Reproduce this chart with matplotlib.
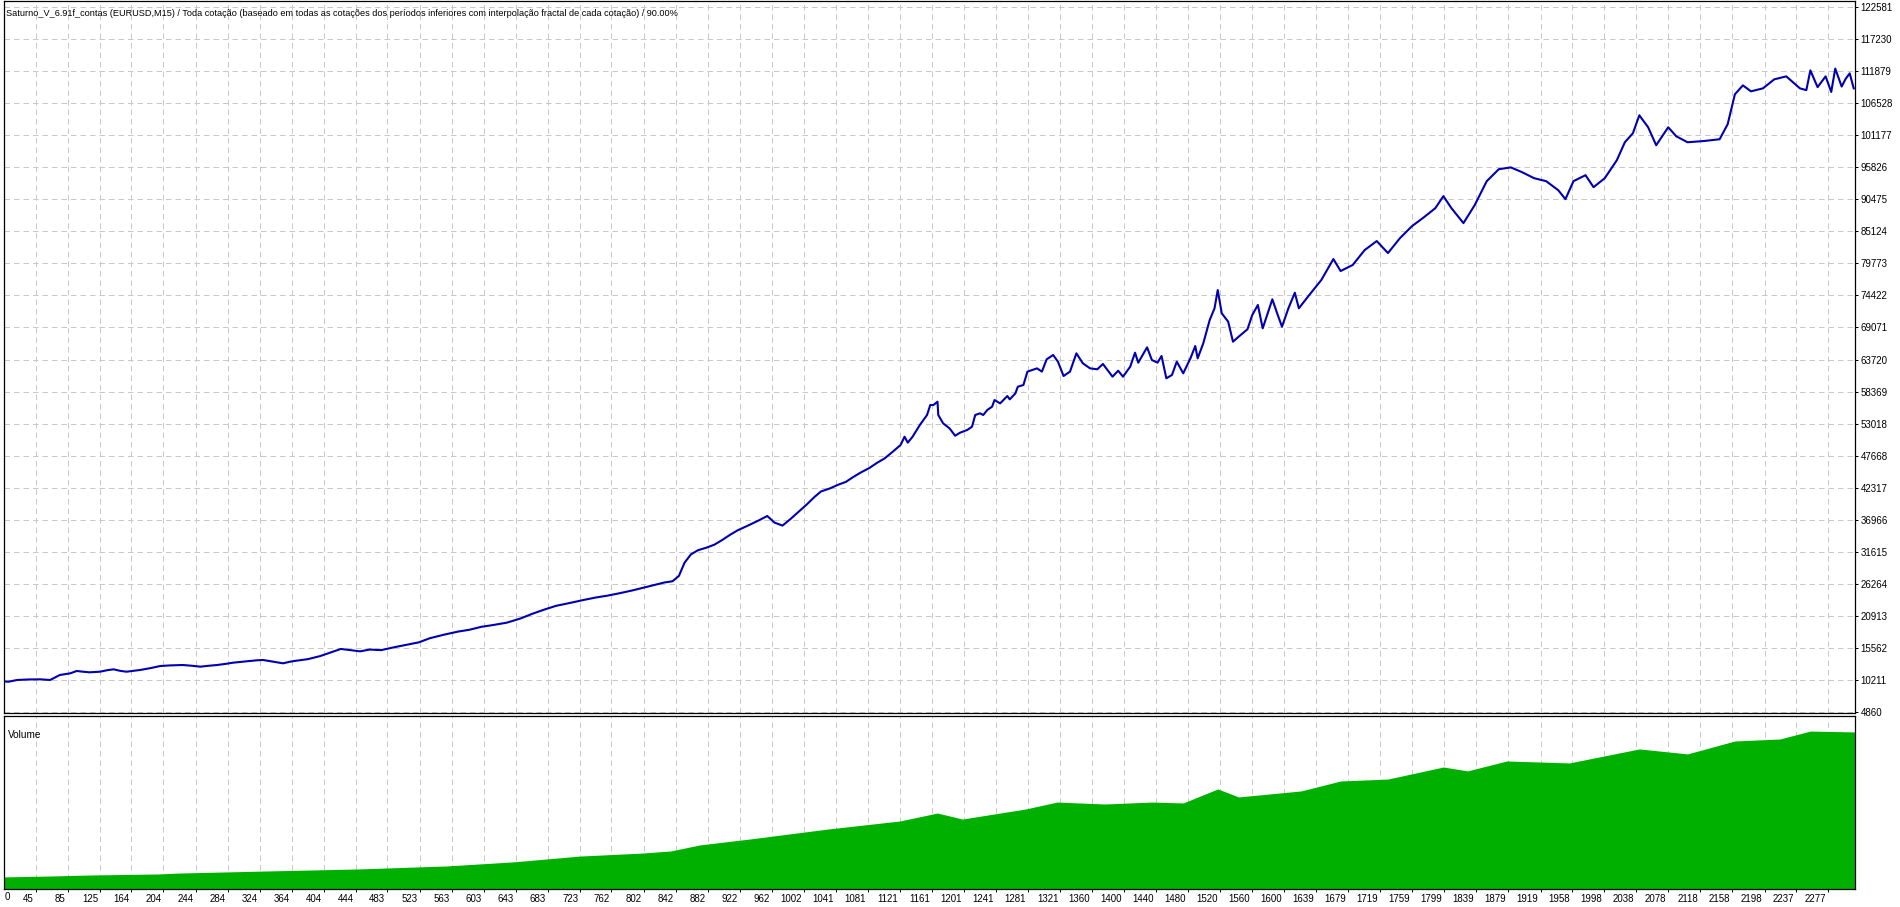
import matplotlib.pyplot as plt
from matplotlib.transforms import ScaledTranslation

plt.rcParams['font.family'] = ['Liberation Sans', 'DejaVu Sans']

title = ("Saturno_V_6.91f_contas (EURUSD,M15) / Toda cotação (baseado em todas as cotações "
         "dos períodos inferiores com interpolação fractal de cada cotação) / 90.00%")

# rótulos do eixo x (número da barra)
x_ticks = [0, 45, 85, 125, 164, 204, 244, 284, 324, 364, 404, 444, 483, 523, 563, 603,
           643, 683, 723, 762, 802, 842, 882, 922, 962, 1002, 1041, 1081, 1121, 1161,
           1201, 1241, 1281, 1321, 1360, 1400, 1440, 1480, 1520, 1560, 1600, 1639, 1679,
           1719, 1759, 1799, 1839, 1879, 1919, 1958, 1998, 2038, 2078, 2118, 2158, 2198,
           2237, 2277]
y_ticks = [4860, 10211, 15562, 20913, 26264, 31615, 36966, 42317, 47668, 53018, 58369,
           63720, 69071, 74422, 79773, 85124, 90475, 95826, 101177, 106528, 111879,
           117230, 122581]

# saldo
bal_x = [0, 11, 22, 35, 50, 63, 70, 75, 82, 88, 96, 104, 112, 125, 134, 142, 150, 158,
         175, 188, 200, 212, 228, 239, 250, 261, 271, 281, 291, 301, 311, 320, 328, 340,
         353, 361, 367, 384, 399, 414, 425, 437, 449, 461, 475, 492, 507, 522, 536, 554,
         571, 585, 600, 615, 632, 649, 664, 679, 693, 711, 728, 743, 757, 772, 789, 801,
         816, 828, 838, 846, 853, 861, 870, 880, 890, 900, 909, 919, 932, 946, 956, 965,
         975, 985, 995, 1005, 1015, 1023, 1034, 1044, 1054, 1063, 1073, 1083, 1093, 1102,
         1112, 1122, 1127, 1131, 1137, 1146, 1155, 1159, 1163, 1168, 1169, 1175, 1183,
         1190, 1196, 1205, 1211, 1215, 1221, 1225, 1230, 1236, 1239, 1246, 1255, 1258,
         1265, 1268, 1275, 1280, 1286, 1292, 1298, 1304, 1312, 1318, 1325, 1333, 1341,
         1349, 1358, 1367, 1374, 1386, 1393, 1399, 1408, 1414, 1418, 1429, 1435, 1442,
         1447, 1453, 1460, 1466, 1474, 1483, 1489, 1492, 1499, 1507, 1513, 1517, 1522,
         1530, 1536, 1543, 1554, 1560, 1567, 1573, 1585, 1591, 1597, 1605, 1613, 1618,
         1631, 1646, 1661, 1670, 1685, 1700, 1715, 1729, 1744, 1759, 1774, 1788, 1798,
         1808, 1823, 1837, 1852, 1867, 1882, 1896, 1911, 1926, 1941, 1950, 1960, 1975,
         1985, 1999, 2014, 2024, 2034, 2042, 2053, 2063, 2078, 2088, 2102, 2122, 2142,
         2152, 2161, 2171, 2181, 2196, 2210, 2225, 2242, 2250, 2255, 2264, 2274, 2281,
         2286, 2294, 2299, 2304, 2309]
bal_y = [10000, 9930, 10220, 10300, 10330, 10220, 10700, 11050, 11200, 11330, 11720,
         11600, 11500, 11600, 11850, 12000, 11750, 11600, 11890, 12200, 12550, 12650,
         12720, 12600, 12440, 12600, 12720, 12900, 13110, 13250, 13390, 13500, 13560,
         13300, 13000, 13250, 13390, 13700, 14200, 14900, 15400, 15200, 15000, 15300,
         15200, 15700, 16100, 16500, 17200, 17800, 18300, 18600, 19100, 19400, 19800,
         20500, 21300, 22000, 22600, 23100, 23600, 24000, 24300, 24700, 25200, 25600,
         26100, 26500, 26700, 27600, 29800, 31200, 31900, 32300, 32800, 33600, 34400,
         35200, 36000, 36900, 37600, 36500, 36000, 37100, 38300, 39500, 40800, 41700,
         42200, 42800, 43300, 44100, 44900, 45600, 46500, 47200, 48300, 49450, 50840,
         49840, 50840, 52790, 54460, 56130, 56130, 56680, 54460, 53070, 52230, 51000,
         51500, 51960, 52510, 54460, 54740, 54460, 55300, 55850, 56960, 56400, 57630,
         57070, 58070, 59180, 59470, 61700, 61970, 62250, 61700, 63760, 64480, 63370,
         60970, 61700, 64760, 63090, 62250, 62090, 62980, 60860, 61860, 60860, 62530,
         64860, 63200, 65760, 63640, 63200, 64310, 60590, 61140, 63370, 61420, 63920,
         65980, 63920, 66430, 70320, 72270, 75330, 71440, 70040, 66700, 67530, 68770,
         71160, 72830, 68930, 73780, 71440, 69200, 72270, 74880, 72270, 74500, 77000,
         80500, 78500, 79500, 82000, 83500, 81500, 84000, 86000, 87500, 89000, 91000,
         89000, 86500, 89500, 93500, 95500, 95800, 95000, 94000, 93500, 92000, 90500,
         93500, 94500, 92500, 94000, 97000, 100000, 101500, 104500, 102500, 99500,
         102500, 101000, 100000, 100200, 100500, 103000, 108000, 109500, 108500, 109000,
         110500, 111000, 109000, 108700, 112000, 109200, 111000, 108400, 112300, 109300,
         110600, 111500, 109000]

vol_x = [0, 60, 112, 198, 223, 334, 445, 556, 639, 723, 801, 836, 872, 934, 1032, 1121,
         1168, 1199, 1278, 1317, 1376, 1435, 1474, 1517, 1543, 1621, 1670, 1729, 1798,
         1828, 1877, 1955, 2042, 2102, 2161, 2217, 2255, 2311]
vol_y = [0.80, 0.86, 0.93, 1.00, 1.06, 1.20, 1.33, 1.53, 1.80, 2.19, 2.39, 2.53, 2.93,
         3.32, 3.99, 4.52, 5.05, 4.65, 5.32, 5.78, 5.65, 5.78, 5.72, 6.65, 6.12, 6.52,
         7.18, 7.31, 8.11, 7.85, 8.51, 8.38, 9.31, 8.98, 9.84, 9.97, 10.50, 10.44]

W, H = 1900, 907
fig = plt.figure(figsize=(W / 100, H / 100), dpi=100)
ax = fig.add_axes([4 / W, (H - 713) / H, 1851 / W, 712 / H])
av = fig.add_axes([4 / W, (H - 889) / H, 1851 / W, 173 / H], sharex=ax)

grid_kw = dict(color='#c8c8c8', linestyle=(0, (5.5, 4)), linewidth=0.72)

ax.plot(bal_x, bal_y, color='#0000b0', lw=1.5)
ax.set_xlim(5.5, 2310.6)
ax.set_ylim(4706, 123583)
ax.set_yticks(y_ticks)
ax.set_yticklabels([str(v) for v in y_ticks])
ax.yaxis.tick_right()
ax.tick_params(axis='y', direction='out', length=2.5, width=0.72, pad=1.5, labelsize=7)
ax.tick_params(axis='x', length=0, labelbottom=False)
ax.set_xticks(x_ticks[1:])
ax.grid(True, **grid_kw)
ax.set_axisbelow(True)

av.fill_between(vol_x, 0, vol_y, color='#00b000', lw=0)
av.set_ylim(0, 11.5)
av.set_yticks([])
av.set_xticks(x_ticks[1:])
av.set_xticklabels([str(v) for v in x_ticks[1:]])
av.tick_params(axis='x', direction='out', length=2.5, width=0.72, pad=1, labelsize=7)
av.xaxis.grid(True, **grid_kw)
av.set_axisbelow(True)
off = ScaledTranslation(-2 / 100, 0, fig.dpi_scale_trans)
for lab in av.get_xticklabels():
    lab.set_horizontalalignment('right')
    lab.set_transform(lab.get_transform() + off)
fig.text(5 / W, 1 - 897 / H, '0', fontsize=7, va='center', ha='left')

for a in (ax, av):
    for s in a.spines.values():
        s.set_linewidth(0.9)
        s.set_color('black')

fig.text(6 / W, 1 - 13 / H, title, fontsize=6.6, va='center', ha='left')
av.text(0.002, 0.89, 'Volume', transform=av.transAxes, fontsize=7.2,
        va='center', ha='left')

fig.savefig('out.png', dpi=100)
